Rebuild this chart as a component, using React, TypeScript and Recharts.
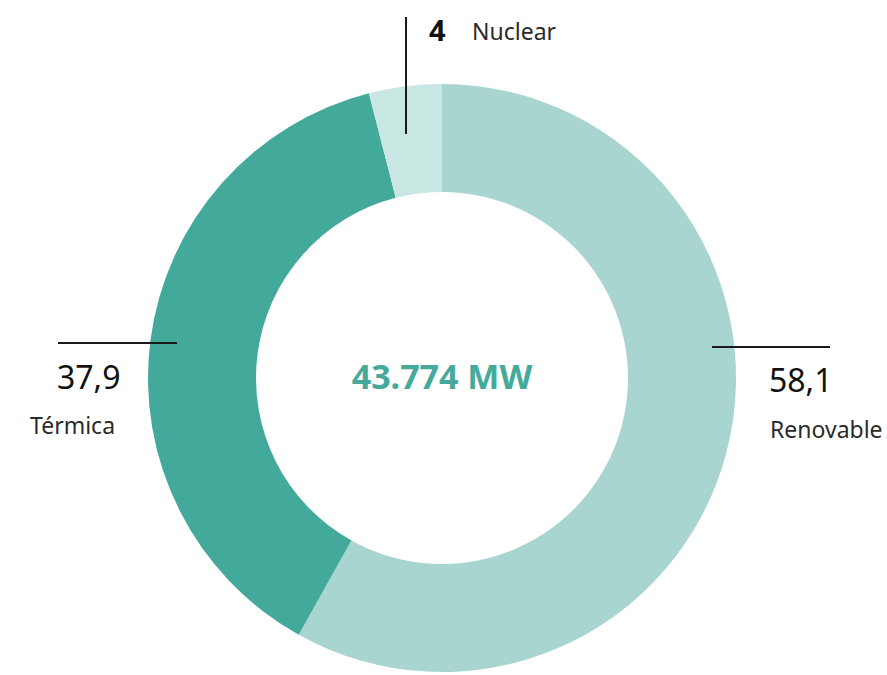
import React from "react";
import { PieChart, Pie, Cell } from "recharts";

const categories = ["Renovable", "Térmica", "Nuclear"];
const shares = [58.1, 37.9, 4];
const valueLabels = ["58,1", "37,9", "4"];
const totalLabel = "43.774 MW";
const colors = ["#a8d5cf", "#43a99b", "#c8e6e2"];

const data = categories.map((name, i) => ({ name, value: shares[i], label: valueLabels[i] }));

const FONT = "'Noto Sans', 'Open Sans', sans-serif";
const TEXT = "#111111";
const SUB = "#2a2a2a";

const renderLabel = (props: any) => {
  const { cx, cy, index } = props;
  const d = data[index];
  if (index === 2) {
    return (
      <g key={`l${index}`}>
        <line x1={cx - 36} x2={cx - 36} y1={cy - 361} y2={cy - 244} stroke="#1a1a1a" strokeWidth={2} />
        <text x={cx - 13} y={cy - 337} fontFamily={FONT} fontSize={29} fontWeight={700} fill={TEXT}>{d.label}</text>
        <text x={cx + 30} y={cy - 338} fontFamily={FONT} fontSize={23} fill={SUB}>{d.name}</text>
      </g>
    );
  }
  if (index === 1) {
    return (
      <g key={`l${index}`}>
        <line x1={cx - 384} x2={cx - 265} y1={cy - 35} y2={cy - 35} stroke="#1a1a1a" strokeWidth={2} />
        <text x={cx - 385} y={cy + 11} fontFamily={FONT} fontSize={32} fill={TEXT}>{d.label}</text>
        <text x={cx - 412} y={cy + 56} fontFamily={FONT} fontSize={23} fill={SUB}>{d.name}</text>
      </g>
    );
  }
  return (
    <g key={`l${index}`}>
      <line x1={cx + 270} x2={cx + 388} y1={cy - 31} y2={cy - 31} stroke="#1a1a1a" strokeWidth={2} />
      <text x={cx + 327} y={cy + 14} fontFamily={FONT} fontSize={32} fill={TEXT}>{d.label}</text>
      <text x={cx + 328} y={cy + 60} fontFamily={FONT} fontSize={23} fill={SUB}>{d.name}</text>
    </g>
  );
};

export default function App() {
  return (
    <div style={{ position: "absolute", left: 0, top: 0, width: 887, height: 675, background: "#fff" }}>
      <PieChart width={887} height={675} margin={{ top: 0, right: 0, bottom: 0, left: 0 }}>
        <Pie
          data={data}
          dataKey="value"
          nameKey="name"
          cx={442}
          cy={378}
          innerRadius={186}
          outerRadius={294}
          startAngle={90}
          endAngle={-270}
          stroke="none"
          label={renderLabel}
          labelLine={false}
          isAnimationActive={false}
        >
          {data.map((d, i) => (
            <Cell key={d.name} fill={colors[i]} />
          ))}
        </Pie>
        <text x={442} y={376} textAnchor="middle" dominantBaseline="central" fontFamily={FONT} fontSize={34} fontWeight={700} fill="#45a99b">
          {totalLabel}
        </text>
      </PieChart>
    </div>
  );
}
